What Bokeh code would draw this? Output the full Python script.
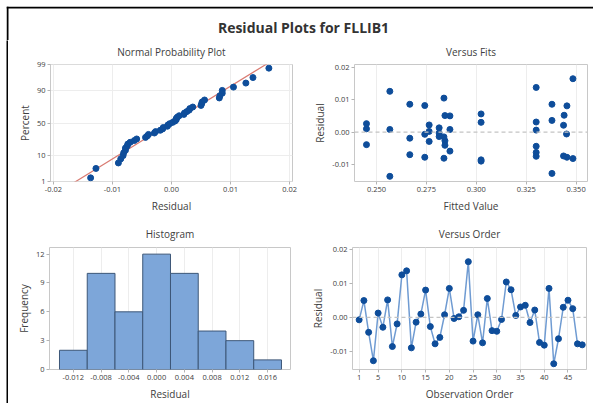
from statistics import NormalDist
import numpy as np
from bokeh.plotting import figure
from bokeh.layouts import row, column
from bokeh.models import Range1d, FixedTicker, NumeralTickFormatter, Span
from bokeh.embed import file_html
from bokeh.resources import INLINE
from bokeh.core.properties import value

# ---------------- data ----------------
main_title = "Residual Plots for FLLIB1"
observation = list(range(1, 49))
residuals = [-0.0007, 0.0050, -0.0044, -0.0128, 0.0013, -0.0029, 0.0052, -0.0086,
             -0.0019, 0.0126, 0.0138, -0.0090, -0.0014, 0.0010, 0.0081, -0.0027,
             -0.0078, -0.0059, 0.0008, 0.0086, -0.0003, 0.0002, 0.0021, 0.0165,
             -0.0070, 0.0008, -0.0075, 0.0056, -0.0039, -0.0041, -0.0006, 0.0105,
             0.0082, 0.0006, 0.0031, 0.0036, -0.0015, 0.0022, -0.0074, -0.0082,
             0.0086, -0.0137, -0.0063, 0.0030, 0.0051, 0.0026, -0.0078, -0.0081]
fitted = [0.2742, 0.2868, 0.3300, 0.3379, 0.2814, 0.2764, 0.3440, 0.3024,
          0.2667, 0.2567, 0.3300, 0.3024, 0.2814, 0.2450, 0.3454, 0.2843,
          0.3454, 0.2868, 0.2567, 0.2667, 0.2814, 0.2764, 0.3437, 0.3484,
          0.2667, 0.2868, 0.3300, 0.3024, 0.2450, 0.2843, 0.3452, 0.2838,
          0.2742, 0.3300, 0.3300, 0.3379, 0.2838, 0.2764, 0.3437, 0.3484,
          0.3379, 0.2567, 0.3300, 0.3024, 0.2843, 0.2450, 0.2742, 0.2838]
hist_edges = [-0.014, -0.010, -0.006, -0.002, 0.002, 0.006, 0.010, 0.014, 0.018]
hist_counts = [2, 10, 6, 12, 10, 4, 3, 1]
prob_ticks_pct = [1, 10, 50, 90, 99]
prob_x_ticks = [-0.02, -0.01, 0.0, 0.01, 0.02]
fit_x_ticks = [0.250, 0.275, 0.300, 0.325, 0.350]
res_y_ticks = [-0.01, 0.0, 0.01, 0.02]
hist_x_ticks = [-0.012, -0.008, -0.004, 0.0, 0.004, 0.008, 0.012, 0.016]
hist_y_ticks = [0, 3, 6, 9, 12]
order_x_ticks = [1, 5, 10, 15, 20, 25, 30, 35, 40, 45]

FONT = "Open Sans"
DOT = "#0E4D9A"
TXT = "#404040"
GRID = "#EDEDED"

nd = NormalDist()


def style(p, title, standoff):
    p.title.text = title
    p.title.align = "center"
    p.title.vertical_align = "top"
    p.title.text_font = FONT
    p.title.text_font_size = "10px"
    p.title.text_font_style = "normal"
    p.title.text_color = TXT
    p.title.standoff = standoff
    p.outline_line_color = "#C8C8C8"
    p.outline_line_width = 1
    p.border_fill_color = "white"
    for ax in p.axis:
        ax.axis_line_color = None
        ax.major_tick_line_color = "#B4B4B4"
        ax.major_tick_out = 3
        ax.major_tick_in = 0
        ax.minor_tick_line_color = None
        ax.major_label_text_font = FONT
        ax.major_label_text_font_size = "7.5px"
        ax.major_label_text_color = TXT
        ax.major_label_standoff = 2
        ax.axis_label_text_font = FONT
        ax.axis_label_text_font_size = "10px"
        ax.axis_label_text_font_style = "normal"
        ax.axis_label_text_color = TXT
        ax.axis_label_standoff = 4
    p.yaxis.axis_label_standoff = 2
    p.xgrid.grid_line_color = GRID
    p.ygrid.grid_line_color = None


def make_fig(w, h, mbl, mbr, mbt, mbb, xr, yr):
    p = figure(width=w, height=h, output_backend="svg", toolbar_location=None,
               x_range=Range1d(*xr), y_range=Range1d(*yr),
               min_border_left=mbl, min_border_right=mbr,
               min_border_top=mbt, min_border_bottom=mbb)
    return p


def bar(w, h, color):
    b = figure(width=w, height=h, output_backend="svg", toolbar_location=None,
               title=None, min_border=0, x_range=Range1d(0, 1), y_range=Range1d(0, 1))
    b.axis.visible = False
    b.grid.visible = False
    b.outline_line_color = None
    b.background_fill_color = color
    b.border_fill_color = color
    return b


# ---------------- title strip (with top border line) ----------------
TW, TH = 587, 34
tf = figure(width=TW, height=TH, output_backend="svg", toolbar_location=None,
            title=None, x_axis_location=None, y_axis_location=None,
            x_range=Range1d(0, TW), y_range=Range1d(0, TH), min_border=0)
tf.grid.visible = False
tf.outline_line_color = None
tf.quad(left=[0, 0], right=[TW, 2], bottom=[TH - 2, 0], top=[TH, TH],
        fill_color="black", line_color=None)
tf.text(x=[297], y=[13], text=[main_title], text_align="center",
        text_baseline="middle", text_font=value(FONT), text_font_size="14px",
        text_font_style="bold", text_color="#333333")

# ---------------- normal probability plot ----------------
n = len(residuals)
sorted_res = sorted(residuals)
zvals = [nd.inv_cdf((i - 0.3) / (n + 0.4)) for i in range(1, n + 1)]
mu = float(np.mean(residuals))
sd = float(np.std(residuals, ddof=1))
zlim = 2.33

p1 = make_fig(292, 175, 42, 8, 24, 32, (-0.0205, 0.0205), (-zlim, zlim))
style(p1, "Normal Probability Plot", 8)
p1.ygrid.grid_line_color = GRID
ztick = [round(nd.inv_cdf(q / 100.0), 6) for q in prob_ticks_pct]
p1.yaxis.ticker = FixedTicker(ticks=ztick)
p1.ygrid.ticker = FixedTicker(ticks=ztick)
p1.yaxis.major_label_overrides = {zt: str(q) for zt, q in zip(ztick, prob_ticks_pct)}
p1.xaxis.ticker = FixedTicker(ticks=prob_x_ticks)
p1.xaxis.formatter = NumeralTickFormatter(format="0.00")
p1.xaxis.axis_label = "Residual"
p1.yaxis.axis_label = "Percent"
p1.line([mu - sd * 2.6, mu + sd * 2.6], [-2.6, 2.6], line_color="#D97B72", line_width=1.2)
p1.scatter(sorted_res, zvals, size=6, fill_color=DOT, line_color=DOT)

# ---------------- versus fits ----------------
p2 = make_fig(293, 175, 54, 6, 24, 32, (0.2390, 0.3557), (-0.0153, 0.0209))
style(p2, "Versus Fits", 8)
p2.xaxis.ticker = FixedTicker(ticks=fit_x_ticks)
p2.xaxis.formatter = NumeralTickFormatter(format="0.000")
p2.yaxis.ticker = FixedTicker(ticks=res_y_ticks)
p2.yaxis.formatter = NumeralTickFormatter(format="0.00")
p2.xaxis.axis_label = "Fitted Value"
p2.yaxis.axis_label = "Residual"
p2.add_layout(Span(location=0, dimension="width", line_color="#C4C4C4",
                   line_dash="4 3", line_width=1.2))
p2.scatter(fitted, residuals, size=6, fill_color=DOT, line_color=DOT)

# ---------------- histogram ----------------
p3 = make_fig(292, 188, 41, 10, 32, 34, (-0.01544, 0.0193), (0, 12.69))
style(p3, "Histogram", 9)
p3.quad(left=hist_edges[:-1], right=hist_edges[1:], bottom=0, top=hist_counts,
        fill_color="#7DA6D9", line_color="#3D5778", line_width=1)
p3.xaxis.ticker = FixedTicker(ticks=hist_x_ticks)
p3.xaxis.formatter = NumeralTickFormatter(format="0.000")
p3.yaxis.ticker = FixedTicker(ticks=hist_y_ticks)
p3.xaxis.axis_label = "Residual"
p3.yaxis.axis_label = "Frequency"

# ---------------- versus order ----------------
p4 = make_fig(293, 188, 52, 7, 32, 34, (-0.4, 48.9), (-0.0154, 0.0207))
style(p4, "Versus Order", 9)
p4.xaxis.ticker = FixedTicker(ticks=order_x_ticks)
p4.yaxis.ticker = FixedTicker(ticks=res_y_ticks)
p4.yaxis.formatter = NumeralTickFormatter(format="0.00")
p4.xaxis.axis_label = "Observation Order"
p4.yaxis.axis_label = "Residual"
p4.add_layout(Span(location=0, dimension="width", line_color="#C4C4C4",
                   line_dash="4 3", line_width=1.2))
p4.line(observation, residuals, line_color="#6F9BD2", line_width=1.5)
p4.scatter(observation, residuals, size=6, fill_color=DOT, line_color=DOT)

# ---------------- layout ----------------
plots = column(row(p1, p2), row(p3, p4))
layout = row(bar(6, 403, "white"),
             column(bar(TW, 6, "white"), tf,
                    row(bar(2, 363, "black"), plots)))

open("out.html", "w").write(file_html(layout, INLINE))
